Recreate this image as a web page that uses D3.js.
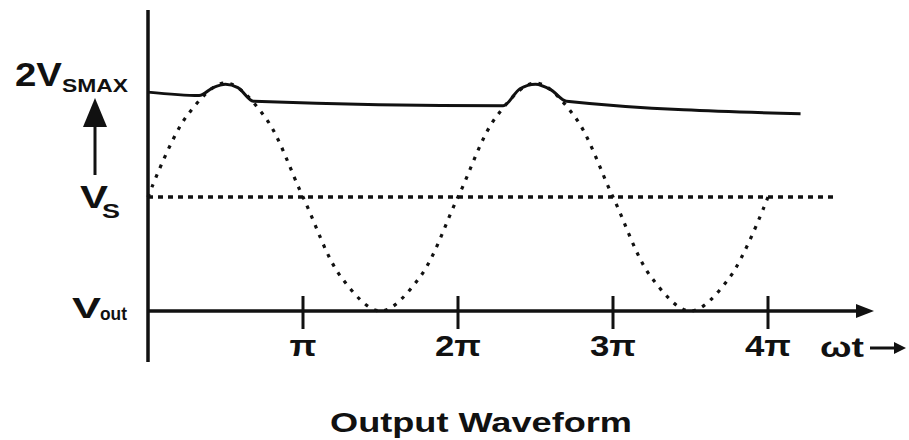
<!DOCTYPE html>
<html>
<head>
<meta charset="utf-8">
<script src="https://cdn.jsdelivr.net/npm/d3@7"></script>
<style>
	body { margin: 0; background: #fff; }
	text { font-family: "Liberation Sans", Arial, sans-serif; font-weight: bold; fill: #111; }
</style>
</head>
<body>
<svg id="chart" width="909" height="440"></svg>
<script>
// phase in multiples of pi, value in units of Vs (Vout axis = 0, Vs = 1, 2Vsmax = 2)
var sinePhase = [0, 0.25, 0.5, 0.75, 1, 1.25, 1.5, 1.75, 2, 2.25, 2.5, 2.75, 3, 3.25, 3.5, 3.75, 4];
var sineValue = [1.0, 1.71, 2.0, 1.71, 1.0, 0.29, 0.0, 0.29, 1.0, 1.71, 2.0, 1.71, 1.0, 0.29, 0.0, 0.29, 1.0];

var envPhase = [0, 0.33, 0.42, 0.5, 0.58, 0.68, 2.29, 2.4, 2.5, 2.6, 2.7, 4.21];
var envValue = [1.92, 1.89, 1.96, 1.99, 1.96, 1.84, 1.80, 1.95, 1.99, 1.94, 1.84, 1.73];

var vsLevel = 1;
var vsEnd = 4.45;

var tickPhase = [1, 2, 3, 4];
var tickLabels = ["π", "2π", "3π", "4π"];

window.onload = function() {
	var svg = d3.select("#chart");

	var x = d3.scaleLinear().domain([0, 4]).range([148, 768]);
	var y = d3.scaleLinear().domain([0, 2]).range([311, 83]);

	drawAxes(svg, x, y);

	// Vs reference level
	svg.append("line")
	.attr("x1", x(0)).attr("x2", x(vsEnd))
	.attr("y1", y(vsLevel)).attr("y2", y(vsLevel))
	.attr("stroke", "#111")
	.attr("stroke-width", 3.5)
	.attr("stroke-dasharray", "5,5");

	// input sine, dotted
	var sine = sinePhase.map(function(p, i) { return [p, sineValue[i]]; });
	svg.append("path")
	.datum(sine)
	.attr("fill", "none")
	.attr("stroke", "#111")
	.attr("stroke-width", 3.2)
	.attr("stroke-dasharray", "3.5,7")
	.attr("d", d3.line()
		.x(function(d) { return x(d[0]); })
		.y(function(d) { return y(d[1]); })
		.curve(d3.curveCatmullRom.alpha(0.5)));

	// output envelope
	var env = envPhase.map(function(p, i) { return [p, envValue[i]]; });
	svg.append("path")
	.datum(env)
	.attr("fill", "none")
	.attr("stroke", "#111")
	.attr("stroke-width", 3)
	.attr("stroke-linejoin", "round")
	.attr("d", d3.line()
		.x(function(d) { return x(d[0]); })
		.y(function(d) { return y(d[1]); })
		.curve(d3.curveMonotoneX));

	drawLabels(svg);
};

function drawAxes(svg, x, y) {
	var x0 = x(0), y0 = y(0);

	// vertical axis
	svg.append("line")
	.attr("x1", x0).attr("x2", x0)
	.attr("y1", 10).attr("y2", 362)
	.attr("stroke", "#111")
	.attr("stroke-width", 3.5);

	// horizontal axis with arrow
	svg.append("line")
	.attr("x1", x0).attr("x2", 858)
	.attr("y1", y0).attr("y2", y0)
	.attr("stroke", "#111")
	.attr("stroke-width", 3.5);

	svg.append("path")
	.attr("d", "M856," + (y0 - 7) + "L874," + y0 + "L856," + (y0 + 7) + "Z")
	.attr("fill", "#111");

	var ticks = svg.append("g");
	ticks.selectAll("line")
	.data(tickPhase)
	.enter().append("line")
	.attr("x1", function(d) { return x(d); })
	.attr("x2", function(d) { return x(d); })
	.attr("y1", y0 - 15).attr("y2", y0 + 18)
	.attr("stroke", "#111")
	.attr("stroke-width", 3);

	ticks.selectAll("text")
	.data(tickPhase)
	.enter().append("text")
	.attr("x", function(d) { return x(d); })
	.attr("y", 356)
	.attr("text-anchor", "middle")
	.attr("font-size", 30)
	.attr("textLength", function(d, i) { return i == 0 ? 27 : 46; })
	.attr("lengthAdjust", "spacingAndGlyphs")
	.text(function(d, i) { return tickLabels[i]; });
}

function addText(svg, tx, ty, size, len, str) {
	return svg.append("text")
	.attr("x", tx).attr("y", ty)
	.attr("font-size", size)
	.attr("textLength", len)
	.attr("lengthAdjust", "spacingAndGlyphs")
	.text(str);
}

function drawLabels(svg) {
	addText(svg, 15, 86, 33, 47, "2V");
	addText(svg, 62, 92, 19, 66, "SMAX");

	// arrow from Vs up to 2Vsmax
	svg.append("line")
	.attr("x1", 95).attr("x2", 95)
	.attr("y1", 125).attr("y2", 175)
	.attr("stroke", "#111")
	.attr("stroke-width", 3);
	svg.append("path")
	.attr("d", "M95,98L107,127L83,127Z")
	.attr("fill", "#111");

	addText(svg, 72, 208, 31, 28, "V").attr("x", 80);
	addText(svg, 102, 218, 20, 18, "S");

	addText(svg, 72, 318, 29, 29, "V");
	addText(svg, 100, 320, 19, 27, "out");

	// omega t with its little arrow
	addText(svg, 820, 357, 28, 44, "ωt");
	svg.append("line")
	.attr("x1", 870).attr("x2", 898)
	.attr("y1", 348).attr("y2", 348)
	.attr("stroke", "#111")
	.attr("stroke-width", 3);
	svg.append("path")
	.attr("d", "M894,342L906,348L894,354Z")
	.attr("fill", "#111");

	addText(svg, 330, 432, 28, 302, "Output Waveform");
}
</script>
</body>
</html>
